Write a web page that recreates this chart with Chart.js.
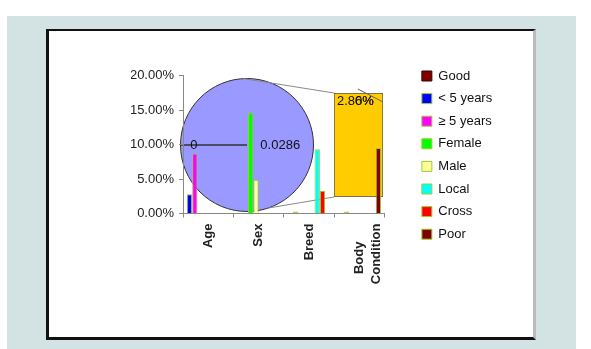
<!DOCTYPE html>
<html>
<head>
<meta charset="utf-8">
<script src="https://cdn.jsdelivr.net/npm/chart.js@4.4.0/dist/chart.umd.min.js"></script>
<style>
  body { margin: 0; background: #fff; }
  #page { position: relative; width: 591px; height: 349px; overflow: hidden; }
  .panel { position: absolute; left: 7px; top: 16px; width: 569px; height: 333px; background: #d3e2e2; }
  .frame { position: absolute; left: 46px; top: 29px; width: 484px; height: 306px; background: #fff;
           border-style: solid; border-color: #111 #bbb #111 #111; border-width: 2px 3px 3px 3px; }
  canvas { position: absolute; left: 0; top: 0; }
</style>
</head>
<body>
<div id="page">
  <div class="panel"></div>
  <div class="frame"></div>
  <canvas id="pie" width="591" height="349"></canvas>
  <canvas id="box" width="591" height="349"></canvas>
  <canvas id="main" width="591" height="349"></canvas>
</div>
<script>
// categories and series (values in %)
const categories = ['Age', 'Sex', 'Breed', ['Body     ', 'Condition']];
const seriesNames = ['< 5 years', '≥ 5 years', 'Female', 'Male', 'Good', 'Local', 'Cross', 'Poor'];
const under5 = [2.8, null, null, null];
const over5 = [8.7, null, 0, 0];
const female = [null, 14.6, null, null];
const male = [null, 4.9, null, null];
const good = [null, null, null, null];
const local = [null, null, 9.3, null];
const cross = [null, null, 3.3, null];
const poor = [null, null, null, 9.5];
const legendOrder = ['Good', '< 5 years', '≥ 5 years', 'Female', 'Male', 'Local', 'Cross', 'Poor'];
const yMax = 20;
const yStep = 5;

// pie + bar of pie
const pieValues = [0, 0.0286];
const barOfPieValues = [2.86];
const barOfPieLabels = ['2.86%', '0%'];

const seriesColors = ['#0000ff', '#ff00ff', '#00ff00', '#ffff99', '#800000', '#00ffff', '#ff0000', '#800000'];
const seriesBorders = ['#99cc33', '#99cc33', '#99cc33', '#99cc33', '#330000', '#99cc33', '#99cc33', '#99cc33'];
const seriesData = [under5, over5, female, male, good, local, cross, poor];

const FONT = "'Liberation Sans', Arial, sans-serif";
Chart.defaults.font.family = FONT;
Chart.defaults.animation = false;

// labels inside the pie
const pieLabelPlugin = {
    id: 'pieLabels',
    afterDatasetsDraw(chart) {
        const ctx = chart.ctx;
        ctx.save();
        ctx.font = '13px ' + FONT;
        ctx.fillStyle = '#111';
        ctx.textAlign = 'center';
        ctx.textBaseline = 'middle';
        chart.getDatasetMeta(0).data.forEach((arc, i) => {
            const v = pieValues[i];
            const a = (arc.startAngle + arc.endAngle) / 2;
            const r = arc.outerRadius * (v === 0 ? 0.8 : 0.5);
            ctx.fillText(String(v), arc.x + r * Math.cos(a), arc.y + r * Math.sin(a));
        });
        ctx.restore();
    }
};

// labels on the bar of pie (they overlap, as in the original)
const boxLabelPlugin = {
    id: 'boxLabels',
    afterDatasetsDraw(chart) {
        const bar = chart.getDatasetMeta(0).data[0];
        const left = bar.x - bar.width / 2;
        const right = bar.x + bar.width / 2;
        const top = Math.min(bar.y, bar.base);
        const ctx = chart.ctx;
        ctx.save();
        ctx.font = '13px ' + FONT;
        ctx.fillStyle = '#111';
        ctx.textBaseline = 'middle';
        ctx.textAlign = 'left';
        const x0 = left + 3;
        const w = ctx.measureText(barOfPieLabels[0]).width;
        ctx.fillText(barOfPieLabels[0], x0, top + 8);
        ctx.textAlign = 'right';
        ctx.fillText(barOfPieLabels[1], x0 + w, top + 8);
        // leader line
        ctx.strokeStyle = '#666';
        ctx.lineWidth = 1;
        ctx.beginPath();
        ctx.moveTo(x0 + w - 16, top - 4);
        ctx.lineTo(right, top + 9);
        ctx.stroke();
        ctx.restore();
    }
};

const pieChart = new Chart(document.getElementById('pie'), {
    type: 'pie',
    data: {
        datasets: [{
            data: pieValues,
            backgroundColor: '#9999ff',
            borderColor: '#333',
            borderWidth: 1,
            hoverOffset: 0
        }]
    },
    options: {
        responsive: false,
        events: [],
        rotation: -90,
        layout: { padding: { left: 180, top: 78, right: 277, bottom: 137 } },
        plugins: { legend: { display: false }, tooltip: { enabled: false } }
    },
    plugins: [pieLabelPlugin]
});

const boxChart = new Chart(document.getElementById('box'), {
    type: 'bar',
    data: {
        labels: ['Other'],
        datasets: [{
            data: barOfPieValues,
            backgroundColor: '#ffcc00',
            borderColor: '#555',
            borderWidth: 1,
            borderSkipped: false,
            barPercentage: 1,
            categoryPercentage: 1
        }]
    },
    options: {
        responsive: false,
        events: [],
        layout: { padding: { left: 334, top: 93, right: 208, bottom: 152 } },
        scales: {
            x: { display: false },
            y: { display: false, min: 0, max: barOfPieValues[0] }
        },
        plugins: { legend: { display: false }, tooltip: { enabled: false } }
    },
    plugins: [boxLabelPlugin]
});

// lines joining the pie to the bar of pie, under the main bars
const connectorPlugin = {
    id: 'connectors',
    beforeDatasetsDraw(chart) {
        const arc = pieChart.getDatasetMeta(0).data[1];
        const bar = boxChart.getDatasetMeta(0).data[0];
        const left = bar.x - bar.width / 2;
        const top = Math.min(bar.y, bar.base);
        const bottom = Math.max(bar.y, bar.base);
        const r = arc.outerRadius;
        const ctx = chart.ctx;
        ctx.save();
        ctx.strokeStyle = '#888';
        ctx.lineWidth = 1;
        ctx.beginPath();
        ctx.moveTo(arc.x - 4, arc.y - r);
        ctx.lineTo(left, top);
        ctx.moveTo(arc.x + r * Math.cos(1.25), arc.y + r * Math.sin(1.25));
        ctx.lineTo(left, bottom);
        ctx.stroke();
        ctx.restore();
    }
};

const mainChart = new Chart(document.getElementById('main'), {
    type: 'bar',
    data: {
        labels: categories,
        datasets: seriesNames.map((name, i) => ({
            label: name,
            data: seriesData[i],
            backgroundColor: c => (c.raw === 0 ? seriesBorders[i] : seriesColors[i]),
            borderColor: seriesBorders[i],
            borderWidth: 1,
            minBarLength: 2
        }))
    },
    options: {
        responsive: false,
        events: [],
        datasets: { bar: { barPercentage: 1, categoryPercentage: 0.85 } },
        layout: { padding: { left: 131, top: 59.9, right: 88.8, bottom: 55.5 } },
        scales: {
            x: {
                grid: { drawOnChartArea: false, tickLength: 4, color: '#888' },
                border: { color: '#888' },
                ticks: {
                    autoSkip: false, minRotation: 90, maxRotation: 90, padding: 6,
                    color: '#222', font: { size: 13, weight: 'bold', lineHeight: 1.3 }
                },
                afterFit: s => { s.height = 80; }
            },
            y: {
                min: 0, max: yMax,
                grid: { drawOnChartArea: false, tickLength: 4, color: '#888' },
                border: { color: '#888' },
                ticks: {
                    stepSize: yStep, padding: 5, color: '#222', font: { size: 13 },
                    callback: v => v.toFixed(2) + '%'
                },
                afterFit: s => { s.width = 52; }
            },
            x2: {
                type: 'category', position: 'top',
                grid: { display: false }, border: { display: false }, ticks: { display: false },
                afterFit: s => { s.height = 15.6; }
            },
            y2: {
                type: 'linear', position: 'right',
                grid: { display: false }, border: { display: false }, ticks: { display: false },
                afterFit: s => { s.width = 27.4; }
            }
        },
        plugins: {
            legend: {
                position: 'right',
                align: 'start',
                maxWidth: 160,
                labels: {
                    boxWidth: 10, boxHeight: 10, padding: 9.6,
                    color: '#111', font: { size: 13 },
                    sort: (a, b) => legendOrder.indexOf(a.text) - legendOrder.indexOf(b.text)
                }
            },
            tooltip: { enabled: false }
        }
    },
    plugins: [connectorPlugin]
});
</script>
</body>
</html>
